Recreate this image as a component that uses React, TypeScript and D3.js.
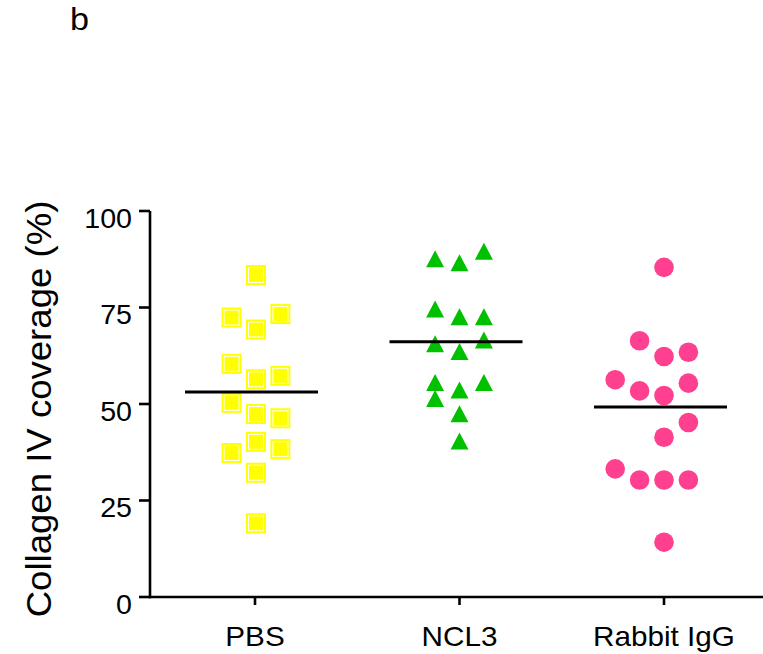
import React from 'react';
import * as d3 from 'd3';

// values
const categories = ['PBS', 'NCL3', 'Rabbit IgG'];
const yTicks = [0, 25, 50, 75, 100];

const pbsValues = [83.4, 72.4, 73.3, 69.3, 60.4, 57.3, 56.4, 50.3, 47.4, 46.3, 40.2, 37.3, 38.3, 32.2, 19.1];
const pbsColumns = [0, -1, 1, 0, -1, 1, 0, -1, 0, 1, 0, -1, 1, 0, 0];

const ncl3Values = [87.6, 86.6, 89.6, 74.6, 72.6, 72.6, 65.6, 66.6, 63.6, 55.6, 55.6, 53.6, 51.4, 47.5, 40.4];
const ncl3Columns = [-1, 0, 1, -1, 0, 1, -1, 1, 0, -1, 1, 0, -1, 0, 0];

const rabbitValues = [85.4, 66.4, 62.3, 63.4, 56.3, 53.4, 52.2, 55.4, 45.2, 41.4, 33.2, 30.3, 30.3, 30.3, 14.2];
const rabbitColumns = [0, -1, 0, 1, -2, -1, 0, 1, 1, 0, -2, -1, 0, 1, 0];

const meanValues = [53.1, 66.1, 49.2];

const width = 763;
const height = 654;
const axisX = 150;
const font = '"Liberation Sans", Arial, sans-serif';
const colSpacing = 24.4;

const App = () => {
  const y = d3.scaleLinear().domain([0, 100]).range([597, 211]);
  const x = d3.scalePoint<string>().domain(categories).range([255, 664]);

  const groups = [
    { cat: 'PBS', values: pbsValues, cols: pbsColumns, shape: 'square', color: '#ffff00', dx: 1 },
    { cat: 'NCL3', values: ncl3Values, cols: ncl3Columns, shape: 'triangle', color: '#00c000', dx: 0 },
    { cat: 'Rabbit IgG', values: rabbitValues, cols: rabbitColumns, shape: 'circle', color: '#ff4091', dx: 0 },
  ];

  const triangle = 'M0,-8.5L9,8.5L-9,8.5Z';

  return (
    <svg width={width} height={height} style={{ position: 'absolute', left: 0, top: 0, background: '#fff' }}>
      <text x={70} y={30} fontFamily={font} fontSize={31} transform="translate(70,0) scale(1.1,1) translate(-70,0)">b</text>

      {/* y axis */}
      <line x1={axisX} x2={axisX} y1={y(100)} y2={y(0) + 1.2} stroke="#000" strokeWidth={2.6} />
      {yTicks.map(t => (
        <g key={t}>
          <line x1={axisX - 11} x2={axisX} y1={y(t)} y2={y(t)} stroke="#000" strokeWidth={2.6} />
          <text
            transform={`translate(132,${y(t) + 16.5}) scale(1.06,1)`}
            textAnchor="end"
            fontFamily={font}
            fontSize={27}
          >{t}</text>
        </g>
      ))}
      <text
        transform={`translate(51,409) rotate(-90) scale(1.06,1)`}
        textAnchor="middle"
        fontFamily={font}
        fontSize={34.5}
      >Collagen IV coverage (%)</text>

      {/* x axis */}
      <line x1={axisX - 1.3} x2={width} y1={y(0)} y2={y(0)} stroke="#000" strokeWidth={2.6} />
      {categories.map(c => (
        <g key={c}>
          <line x1={x(c)} x2={x(c)} y1={y(0)} y2={y(0) + 8} stroke="#000" strokeWidth={2.6} />
          <text
            transform={`translate(${x(c)},646) scale(1.06,1)`}
            textAnchor="middle"
            fontFamily={font}
            fontSize={28}
          >{c}</text>
        </g>
      ))}

      {/* points */}
      {groups.map(g => (
        <g key={g.cat}>
          {g.values.map((v, i) => {
            const cx = (x(g.cat) as number) + g.dx + g.cols[i] * colSpacing;
            const cy = y(v);
            if (g.shape === 'square') {
              return (
                <g key={i}>
                  <rect x={cx - 10} y={cy - 10} width={20} height={20} fill={g.color} />
                  <rect x={cx - 7.5} y={cy - 7.5} width={15} height={15} fill="none" stroke="#fff" strokeWidth={1} />
                </g>
              );
            }
            if (g.shape === 'triangle') {
              return <path key={i} d={triangle} transform={`translate(${cx},${cy})`} fill={g.color} />;
            }
            return <circle key={i} cx={cx} cy={cy} r={9.8} fill={g.color} />;
          })}
        </g>
      ))}

      {/* mean lines */}
      {categories.map((c, i) => (
        <line
          key={c}
          x1={(x(c) as number) - 70}
          x2={(x(c) as number) + 63}
          y1={y(meanValues[i])}
          y2={y(meanValues[i])}
          stroke="#000"
          strokeWidth={3}
        />
      ))}
    </svg>
  );
};

export default App;
